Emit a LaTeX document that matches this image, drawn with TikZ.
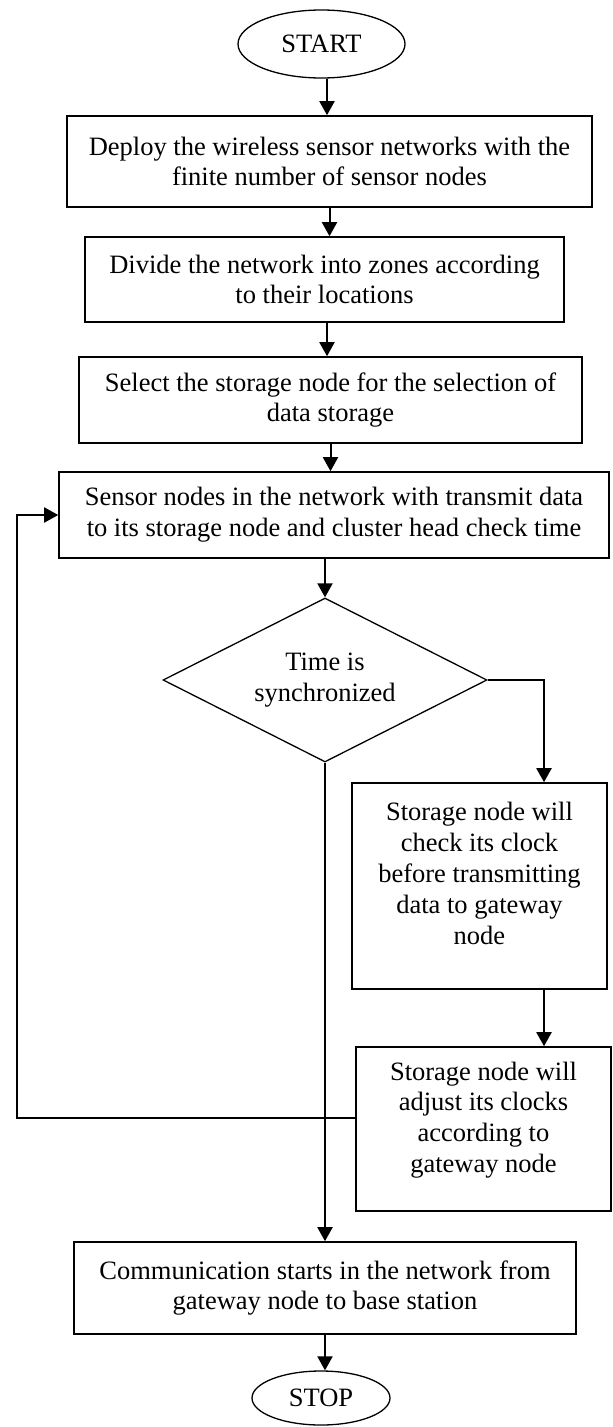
\documentclass[tikz,border=0pt]{standalone}
\usepackage{fontspec}
\setmainfont{Liberation Serif}
\usetikzlibrary{shapes.geometric,arrows.meta}
\begin{document}
\begin{tikzpicture}[x=1pt,y=-1pt,
  txt/.style={font=\fontsize{26.5}{30.8}\selectfont, align=center},
  boxnode/.style={draw, line width=1.6pt, rectangle, inner sep=0pt, txt},
  term/.style={draw, ellipse, line width=1.3pt, inner sep=0pt, txt},
  dec/.style={draw, diamond, aspect=2, line width=1.3pt, inner sep=0pt, txt},
  arr/.style={line width=2pt, -{Triangle[width=15pt,length=14pt]}}]
\useasboundingbox (0,0) rectangle (613,1427);
\fill[white] (0,0) rectangle (613,1427);

\node[term, minimum width=167pt, minimum height=68pt] (START) at (321.5,44) {START};
\node[boxnode, minimum width=525pt, minimum height=91pt] (box1) at (329.5,161.5)
  {Deploy the wireless sensor networks with the\\finite number of sensor nodes};
\node[boxnode, minimum width=479pt, minimum height=85pt] (box2) at (324.5,279.5)
  {Divide the network into zones according\\to their locations};
\node[boxnode, minimum width=503pt, minimum height=86pt] (box3) at (330.5,400)
  {Select the storage node for the selection of\\data storage};
\node[boxnode, minimum width=550pt, minimum height=86pt] (box4) at (334,515)
  {Sensor nodes in the network with transmit data\\to its storage node and cluster head check time};
\node[dec, minimum width=324pt, minimum height=164pt] (dia) at (325,680)
  {Time is\\synchronized};
\node[boxnode, minimum width=255pt, minimum height=206pt] (box5) at (479.5,886) {};
\node[txt] (box5t) at (479.5,873.5)
  {Storage node will\\check its clock\\before transmitting\\data to gateway\\node};
\node[boxnode, minimum width=255pt, minimum height=164pt] (box6) at (483.5,1129) {};
\node[txt] (box6t) at (483.5,1120)
  {Storage node will\\adjust its clocks\\according to\\gateway node};
\node[boxnode, minimum width=502pt, minimum height=92pt] (box7) at (325,1288)
  {Communication starts in the network from\\gateway node to base station};
\node[term, minimum width=138pt, minimum height=54pt] (STOP) at (321,1398) {STOP};

\coordinate (sp) at (327,0);
\coordinate (rx) at (544,0);
\coordinate (lp) at (17,1118);

\draw[arr] (START.south -| sp) -- (box1.north -| sp);
\draw[arr] (box1.south) -- (box1.south |- box2.north);
\draw[arr] (box2.south -| sp) -- (box3.north -| sp);
\draw[arr] (box3.south) -- (box3.south |- box4.north);
\draw[arr] (dia.north |- box4.south) -- (dia.north);
\draw[arr] (dia.east) -| (box5.north -| rx);
\draw[arr] (box5.south -| rx) -- (box6.north -| rx);
\draw[arr] (box6.west |- lp) -- (lp) |- (box4.west);
\draw[arr] (dia.south) -- (dia.south |- box7.north);
\draw[arr] (box7.south) -- (box7.south |- STOP.north);
\end{tikzpicture}
\end{document}
